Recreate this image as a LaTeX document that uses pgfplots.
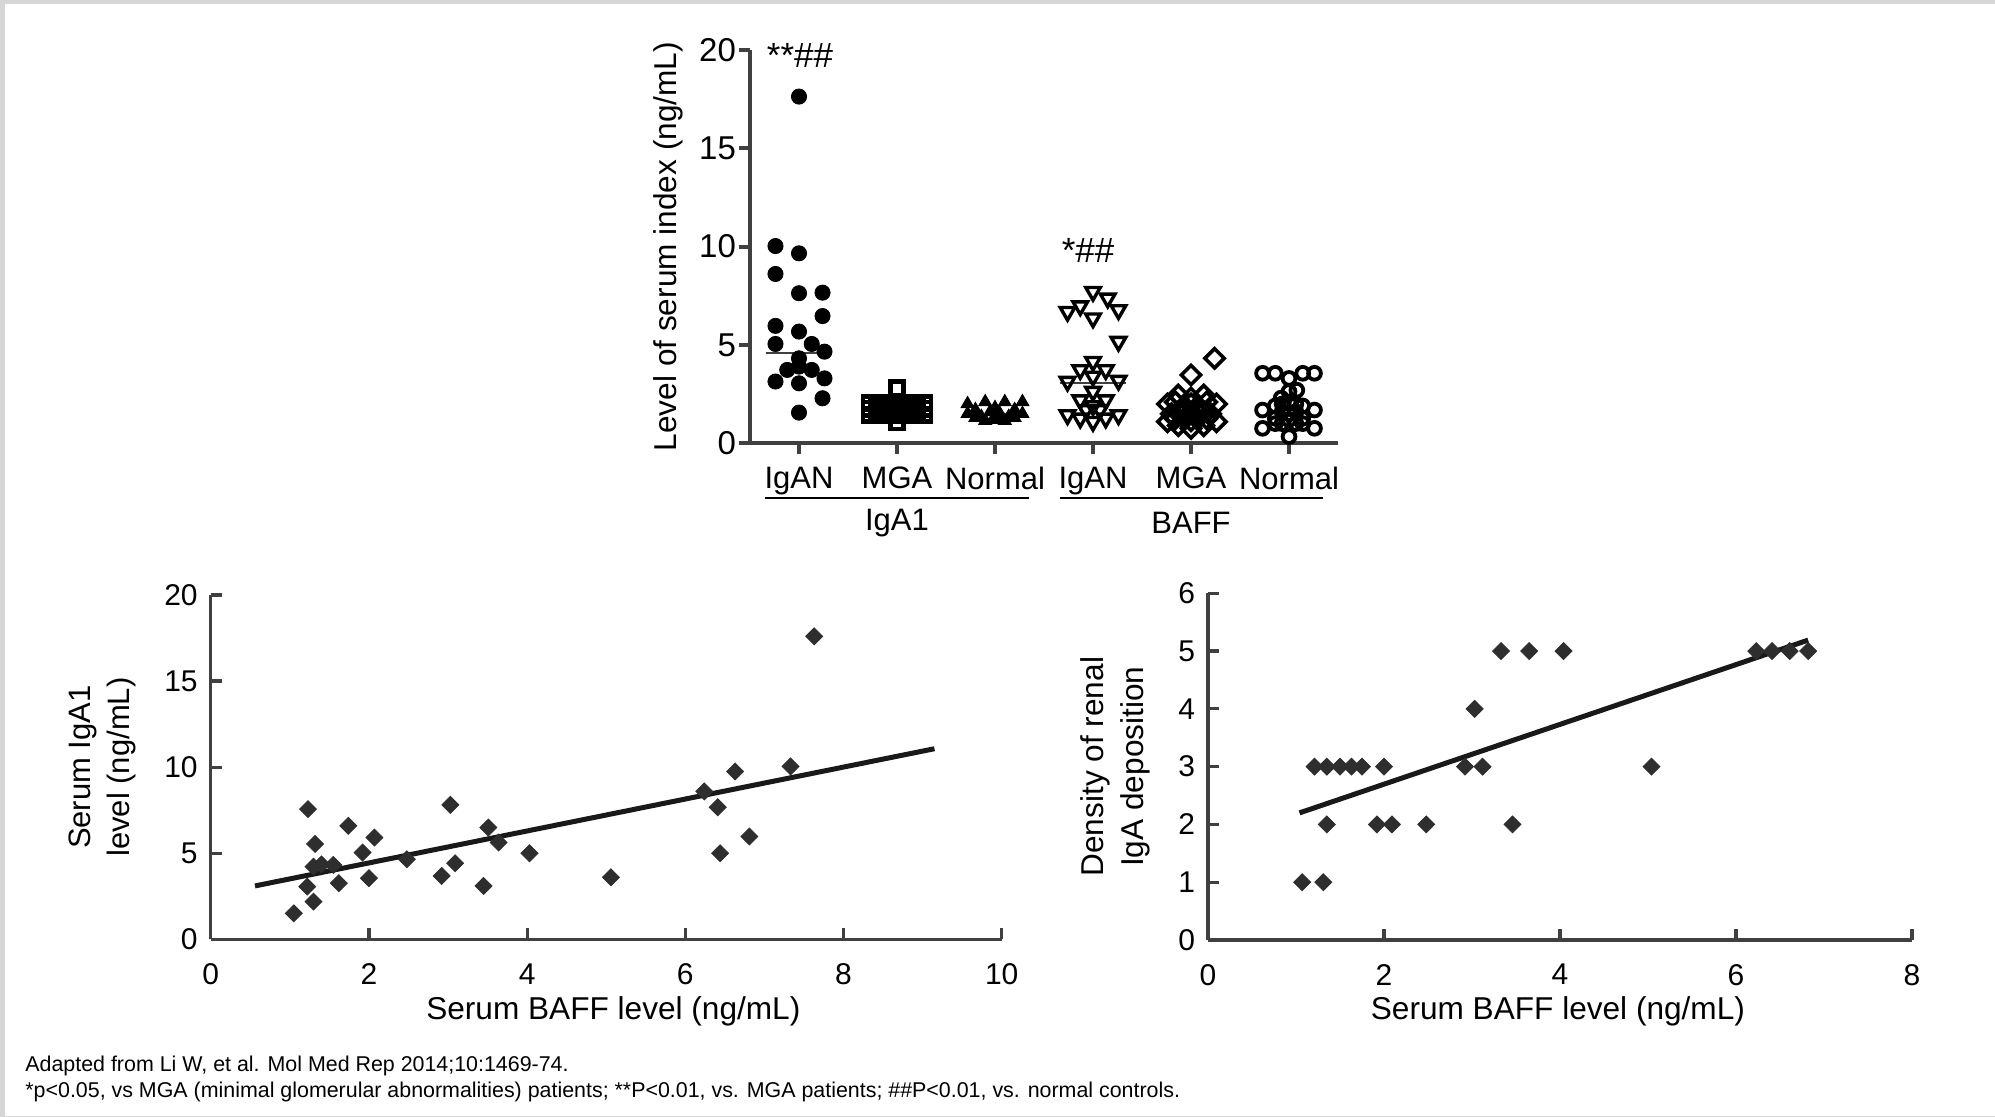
\documentclass[border=0pt]{standalone}
\usepackage{pgfplots}
\pgfplotsset{compat=1.18}
\usepackage{fontspec}
\setmainfont{Liberation Sans}
\definecolor{axgray}{HTML}{404040}
\definecolor{framegray}{HTML}{D6D6D6}
\definecolor{mk}{HTML}{2E2E2E}
\begin{document}
\begin{tikzpicture}
\useasboundingbox (0,0) rectangle (997.5pt,558.5pt);
\fill[framegray] (0,0) rectangle (2.5pt,558.5pt);
\fill[framegray] (0,556.5pt) rectangle (997.5pt,558.5pt);
\fill[framegray] (0,0) rectangle (997.5pt,0.7pt);

% ---------------- top panel ----------------
\begin{axis}[
 at={(375pt,336.85pt)}, anchor=south west, scale only axis,
 width=294pt, height=196.65pt,
 xmin=0.5, xmax=6.5, ymin=0, ymax=20,
 axis lines=left, axis line style={-, line width=2pt, draw=axgray},
 xtick={1,2,3,4,5,6}, xticklabels={IgAN,MGA,Normal,IgAN,MGA,Normal},
 ytick={0,5,10,15,20},
 tick align=outside, major tick length=5.5pt,
 tick style={line width=2pt, draw=axgray},
 xticklabel style={font=\fontsize{15.5}{18}\selectfont, yshift=-3pt},
 yticklabel style={font=\fontsize{16.5}{18}\selectfont, xshift=2pt},
 /pgf/number format/assume math mode=true,
 ylabel={Level of serum index (ng/mL)},
 every axis y label/.style={at={(axis description cs:-0.139,0.5)},rotate=90,anchor=center,font=\fontsize{15.8}{18}\selectfont},
 clip=false,
]
% IgA1 - IgAN (filled circles)
\addplot[only marks, mark=*, mark size=3.8pt, mark options={draw=black, fill=black}] coordinates {
 (1,17.63) (0.76,10.03) (1,9.66) (0.76,8.61) (1,7.63) (1.24,7.66) (1.24,6.47)
 (0.76,5.97) (1,5.68) (0.76,5.05) (1.13,5.05) (1.26,4.66) (1,4.32) (0.88,3.73)
 (1.13,3.73) (0.76,3.14) (1,3.05) (1.26,3.30) (1.24,2.29) (1,1.56) (1,3.9)
};
% IgA1 - MGA (open squares, heavily overlapping)
\addplot[only marks, mark=square, mark size=3.3pt, mark options={draw=black, line width=2.2pt}] coordinates {
 (1.72,2.05) (1.72,1.75) (1.72,1.45) (1.79,1.90) (1.79,1.60) (1.86,2.05) (1.86,1.75)
 (1.86,1.45) (1.93,1.90) (1.93,1.60) (2,2.05) (2,1.75) (2,1.45) (2.07,1.90)
 (2.07,1.60) (2.14,2.05) (2.14,1.75) (2.14,1.45) (2.21,1.90) (2.21,1.60) (2.28,2.05)
 (2.28,1.75) (2.28,1.45) (2,2.80) (2,1.05)
};
% IgA1 - Normal (filled triangles)
\addplot[only marks, mark=triangle*, mark size=3.8pt, mark options={draw=black, fill=black}] coordinates {
 (2.72,2.0) (2.72,1.5) (2.80,1.7) (2.86,1.35) (2.90,2.1) (2.95,1.6) (3,1.2)
 (3,1.8) (3.05,1.5) (3.10,2.1) (3.14,1.35) (3.20,1.7) (3.28,2.1) (3.28,1.5)
 (2.80,1.3) (3.20,1.3) (3,1.4) (2.90,1.15) (3.10,1.15)
};
% BAFF - IgAN (open down triangles)
\addplot[only marks, mark=triangle, mark size=4.2pt, mark options={draw=black, rotate=180, line width=1.7pt}] coordinates {
 (4,7.71) (4.15,7.37) (3.87,6.98) (3.74,6.69) (4.26,6.78) (4,6.36) (4.26,5.17)
 (4,4.15) (3.87,3.73) (4.13,3.73) (3.74,3.14) (4.26,3.19) (4,3.40) (4,2.63)
 (3.87,2.20) (4.13,2.20) (3.74,1.44) (3.87,1.27) (4,1.10) (4.13,1.27) (4.26,1.44)
 (4,1.9) (3.93,1.7) (4.07,1.7)
};
% BAFF - MGA (open diamonds)
\addplot[only marks, mark=square, mark size=3.4pt, mark options={draw=black, rotate=45, line width=1.8pt}] coordinates {
 (5.24,4.32) (5,3.47) (4.76,2.0) (4.76,1.1) (5.26,2.0) (5.26,1.1) (5,0.76)
 (4.87,0.9) (5.13,0.9) (4.87,2.45) (5.13,2.45) (5,2.0) (5,1.5) (4.87,1.6)
 (5.13,1.6) (4.80,1.5) (5.20,1.5) (4.93,1.25) (5.07,1.25) (5,1.15)
 (4.93,1.9) (5.07,1.9) (4.93,1.55) (5.07,1.55) (5,2.3) (4.84,2.1) (5.16,2.1)
 (4.84,1.25) (5.16,1.25)
};
% BAFF - Normal (open circles)
\addplot[only marks, mark=o, mark size=3.2pt, mark options={draw=black, line width=1.9pt}] coordinates {
 (5.73,3.56) (5.86,3.56) (6.14,3.56) (6.26,3.56) (6,3.3) (6,2.63) (6.08,2.7)
 (5.92,2.3) (5.73,1.69) (6.26,1.69) (5.73,0.76) (6.26,0.76) (6,0.34) (6,1.5)
 (5.86,1.27) (6.14,1.27) (5.86,1.9) (6.14,1.9) (6,2.1) (5.93,1.0) (6.07,1.0)
 (5.93,1.6) (6.07,1.6) (6,1.2) (5.86,1.0) (6.14,1.0) (5.93,2.0) (6.07,2.0)
};
% medians
\addplot[no markers, line width=1pt, draw=axgray] coordinates {(0.66,4.58) (1.34,4.58)};
\addplot[no markers, line width=1pt, draw=axgray] coordinates {(3.66,3.05) (4.34,3.05)};
% annotations and groups
\node[font=\fontsize{17.5}{18}\selectfont] at (axis cs:1.01,19.74) {**\#\#};
\node[font=\fontsize{17.5}{18}\selectfont] at (axis cs:3.95,9.83) {*\#\#};
\draw[line width=0.75pt] ([yshift=-27.35pt]axis cs:0.65,0) -- ([yshift=-27.35pt]axis cs:3.35,0);
\draw[line width=0.75pt] ([yshift=-27.35pt]axis cs:3.66,0) -- ([yshift=-27.35pt]axis cs:6.35,0);
\node[font=\fontsize{15.5}{18}\selectfont] at ([yshift=-40pt]axis cs:2,0) {IgA1};
\node[font=\fontsize{15.5}{18}\selectfont] at ([yshift=-40pt]axis cs:5,0) {BAFF};
\end{axis}

% ---------------- bottom left ----------------
\begin{axis}[
 at={(105.35pt,88.85pt)}, anchor=south west, scale only axis,
 width=395.5pt, height=172.15pt,
 xmin=0, xmax=10, ymin=0, ymax=20,
 axis lines=left, axis line style={-, line width=1.6pt, draw=axgray},
 xtick={0,2,4,6,8,10}, ytick={0,5,10,15,20},
 tick align=inside, major tick length=5.5pt,
 tick style={line width=1.6pt, draw=axgray},
 tick label style={font=\fontsize{15}{16}\selectfont},
 xticklabel style={yshift=-8.5pt},
 yticklabel style={xshift=-3pt},
 /pgf/number format/assume math mode=true,
 xlabel={Serum BAFF level (ng/mL)},
 ylabel={Serum IgA1\\level (ng/mL)},
 every axis x label/.style={at={(axis description cs:0.509,-0.210)},anchor=center,font=\fontsize{15.8}{18}\selectfont},
 every axis y label/.style={at={(axis description cs:-0.137,0.5)},rotate=90,anchor=center,align=center,font=\fontsize{15.5}{19.5}\selectfont},
 clip=false,
]
\addplot[only marks, mark=square*, mark size=3.0pt, mark options={draw=mk, fill=mk, rotate=45}] coordinates {
 (1.05,1.51) (1.22,3.06) (1.23,7.56) (1.30,2.19) (1.30,4.22) (1.32,5.54) (1.40,4.35)
 (1.55,4.32) (1.62,3.26) (1.74,6.59) (1.92,5.04) (2.00,3.55) (2.07,5.91) (2.48,4.65)
 (2.92,3.68) (3.03,7.81) (3.09,4.42) (3.45,3.10) (3.51,6.49) (3.64,5.62) (4.03,5.00)
 (5.06,3.60) (6.24,8.59) (6.41,7.67) (6.44,5.00) (6.63,9.75) (6.81,5.97) (7.33,10.04)
 (7.63,17.60)
};
\addplot[no markers, line width=2.5pt, draw=black!90] coordinates {(0.56,3.10) (9.15,11.07)};
\end{axis}

% ---------------- bottom right ----------------
\begin{axis}[
 at={(604pt,88.5pt)}, anchor=south west, scale only axis,
 width=352pt, height=173.35pt,
 xmin=0, xmax=8, ymin=0, ymax=6,
 axis lines=left, axis line style={-, line width=1.6pt, draw=axgray},
 xtick={0,2,4,6,8}, ytick={0,1,2,3,4,5,6},
 tick align=inside, major tick length=5.5pt,
 tick style={line width=1.6pt, draw=axgray},
 tick label style={font=\fontsize{15}{16}\selectfont},
 xticklabel style={yshift=-8.5pt},
 yticklabel style={xshift=-3pt},
 /pgf/number format/assume math mode=true,
 xlabel={Serum BAFF level (ng/mL)},
 ylabel={Density of renal\\IgA deposition},
 every axis x label/.style={at={(axis description cs:0.497,-0.205)},anchor=center,font=\fontsize{15.8}{18}\selectfont},
 every axis y label/.style={at={(axis description cs:-0.132,0.5)},rotate=90,anchor=center,align=center,font=\fontsize{15.8}{20}\selectfont},
 clip=false,
]
\addplot[only marks, mark=square*, mark size=3.0pt, mark options={draw=mk, fill=mk, rotate=45}] coordinates {
 (1.07,1) (1.31,1) (1.21,3) (1.35,3) (1.50,3) (1.63,3) (1.75,3) (2.00,3)
 (1.35,2) (1.92,2) (2.09,2) (2.48,2) (2.92,3) (3.12,3) (3.03,4) (3.33,5)
 (3.65,5) (3.46,2) (4.04,5) (5.04,3) (6.23,5) (6.41,5) (6.61,5) (6.82,5)
};
\addplot[no markers, line width=2.5pt, draw=black!90] coordinates {(1.04,2.20) (6.82,5.19)};
\end{axis}

% ---------------- footnote ----------------
\node[anchor=west, inner sep=0pt, font=\fontsize{10.7}{12}\selectfont] at (12.5pt,25.5pt) {Adapted from Li W, et al. Mol Med Rep 2014;10:1469-74.};
\node[anchor=west, inner sep=0pt, font=\fontsize{10.7}{12}\selectfont] at (12.5pt,12.5pt) {*p<0.05, vs MGA (minimal glomerular abnormalities) patients; **P<0.01, vs. MGA patients; \#\#P<0.01, vs. normal controls.};
\end{tikzpicture}
\end{document}
